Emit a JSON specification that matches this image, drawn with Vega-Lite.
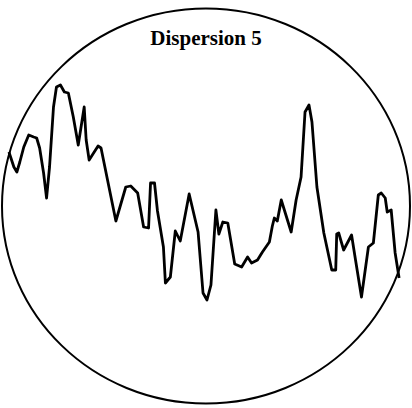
{
  "$schema": "https://vega.github.io/schema/vega-lite/v6.json",
  "width": 412,
  "height": 408,
  "autosize": {"type": "fit", "contains": "padding"},
  "padding": 0,
  "background": "white",
  "config": {"view": {"stroke": null}},
  "title": {
    "text": "Dispersion 5",
    "font": "Liberation Serif",
    "fontWeight": "bold",
    "fontSize": 21,
    "color": "black",
    "anchor": "middle",
    "frame": "group",
    "baseline": "alphabetic",
    "offset": -44,
    "dy": 22
  },
  "datasets": {
    "series": [
      {"t": 7, "level": 256}, {"t": 12, "level": 241}, {"t": 15, "level": 236}, {"t": 18, "level": 246},
      {"t": 22, "level": 261}, {"t": 27, "level": 273}, {"t": 32, "level": 271}, {"t": 35, "level": 270},
      {"t": 38, "level": 260}, {"t": 42, "level": 235}, {"t": 45, "level": 210}, {"t": 48, "level": 241},
      {"t": 52, "level": 301}, {"t": 55, "level": 321}, {"t": 59, "level": 323}, {"t": 63, "level": 316},
      {"t": 67, "level": 315}, {"t": 72, "level": 291}, {"t": 77, "level": 263}, {"t": 83, "level": 301},
      {"t": 85, "level": 268}, {"t": 88, "level": 248}, {"t": 97, "level": 262}, {"t": 100, "level": 260},
      {"t": 115, "level": 187}, {"t": 125, "level": 221}, {"t": 130, "level": 222}, {"t": 137, "level": 215},
      {"t": 143, "level": 181}, {"t": 148, "level": 180}, {"t": 150, "level": 225}, {"t": 154, "level": 225},
      {"t": 157, "level": 197}, {"t": 163, "level": 161}, {"t": 165, "level": 125}, {"t": 170, "level": 131},
      {"t": 175, "level": 177}, {"t": 180, "level": 167}, {"t": 189, "level": 214}, {"t": 198, "level": 176},
      {"t": 203, "level": 115}, {"t": 207, "level": 108}, {"t": 211, "level": 123}, {"t": 216, "level": 198},
      {"t": 219, "level": 174}, {"t": 223, "level": 186}, {"t": 228, "level": 185}, {"t": 235, "level": 144},
      {"t": 242, "level": 141}, {"t": 248, "level": 151}, {"t": 252, "level": 145}, {"t": 258, "level": 148},
      {"t": 263, "level": 156}, {"t": 270, "level": 166}, {"t": 273, "level": 182}, {"t": 275, "level": 190},
      {"t": 278, "level": 187}, {"t": 282, "level": 208}, {"t": 292, "level": 176}, {"t": 297, "level": 208},
      {"t": 302, "level": 231}, {"t": 306, "level": 296}, {"t": 310, "level": 303}, {"t": 313, "level": 286},
      {"t": 318, "level": 221}, {"t": 325, "level": 175}, {"t": 333, "level": 138}, {"t": 337, "level": 138},
      {"t": 338, "level": 174}, {"t": 340, "level": 175}, {"t": 345, "level": 158}, {"t": 353, "level": 173},
      {"t": 357, "level": 148}, {"t": 363, "level": 111}, {"t": 370, "level": 161}, {"t": 375, "level": 165},
      {"t": 380, "level": 213}, {"t": 383, "level": 215}, {"t": 387, "level": 210}, {"t": 389, "level": 196},
      {"t": 393, "level": 198}, {"t": 397, "level": 155}, {"t": 401, "level": 130}
    ],
    "frame": [{"t": 206, "level": 202}]
  },
  "layer": [
    {
      "data": {"name": "frame"},
      "mark": {
        "type": "point",
        "shape": "M-1,0C-1,-0.5347,-0.5523,-0.968,0,-0.968C0.5523,-0.968,1,-0.5347,1,0C1,0.5347,0.5523,0.968,0,0.968C-0.5523,0.968,-1,0.5347,-1,0Z",
        "size": 166464,
        "filled": false,
        "stroke": "black",
        "strokeWidth": 2,
        "opacity": 1
      },
      "encoding": {
        "x": {"field": "t", "type": "quantitative", "scale": {"domain": [0, 412], "nice": false, "zero": false}, "axis": null},
        "y": {"field": "level", "type": "quantitative", "scale": {"domain": [0, 408], "nice": false, "zero": false}, "axis": null}
      }
    },
    {
      "data": {"name": "series"},
      "mark": {"type": "line", "color": "black", "strokeWidth": 2.8, "strokeJoin": "round"},
      "encoding": {
        "x": {"field": "t", "type": "quantitative", "scale": {"domain": [0, 412], "nice": false, "zero": false}, "axis": null},
        "y": {"field": "level", "type": "quantitative", "scale": {"domain": [0, 408], "nice": false, "zero": false}, "axis": null}
      }
    }
  ]
}
